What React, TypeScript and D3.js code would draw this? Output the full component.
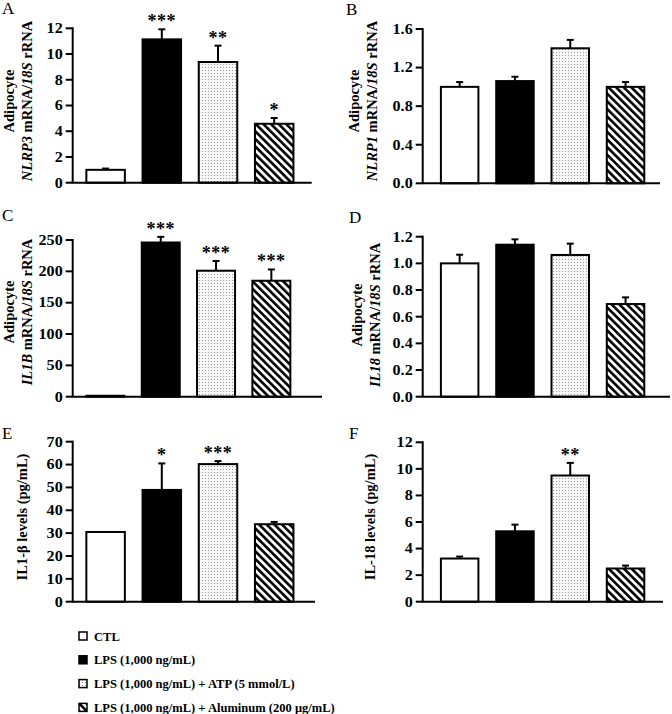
import React from "react";
import * as d3 from "d3";

const groups = ["CTL", "LPS", "ATP", "Al"];

const nlrp3Means = [1.0, 11.14, 9.38, 4.58];
const nlrp3Errs = [0.1, 0.78, 1.27, 0.45];
const nlrp3Stars = ["", "***", "**", "*"];
const nlrp3Ticks = [0, 2, 4, 6, 8, 10, 12];

const nlrp1Means = [1.0, 1.06, 1.4, 1.0];
const nlrp1Errs = [0.05, 0.045, 0.087, 0.05];
const nlrp1Stars = ["", "", "", ""];
const nlrp1Ticks = [0, 0.4, 0.8, 1.2, 1.6];

const il1bMeans = [1.5, 246, 201, 185];
const il1bErrs = [0, 9, 15.5, 18];
const il1bStars = ["", "***", "***", "***"];
const il1bTicks = [0, 50, 100, 150, 200, 250];

const il18Means = [1.0, 1.14, 1.063, 0.695];
const il18Errs = [0.065, 0.04, 0.085, 0.05];
const il18Stars = ["", "", "", ""];
const il18Ticks = [0, 0.2, 0.4, 0.6, 0.8, 1.0, 1.2];

const il1bLevelMeans = [30.5, 48.9, 60.2, 33.9];
const il1bLevelErrs = [0, 11.6, 1.3, 1.0];
const il1bLevelStars = ["", "*", "***", ""];
const il1bLevelTicks = [0, 10, 20, 30, 40, 50, 60, 70];

const il18LevelMeans = [3.25, 5.3, 9.5, 2.5];
const il18LevelErrs = [0.15, 0.5, 0.95, 0.22];
const il18LevelStars = ["", "", "**", ""];
const il18LevelTicks = [0, 2, 4, 6, 8, 10, 12];

const legendLabels = [
  "CTL",
  "LPS (1,000 ng/mL)",
  "LPS (1,000 ng/mL) + ATP (5 mmol/L)",
  "LPS (1,000 ng/mL) + Aluminum (200 μg/mL)",
];

const FONT = "'Liberation Serif', 'Times New Roman', serif";
const fills = ["#ffffff", "#000000", "url(#dots)", "url(#stripes)"];

type Seg = { t: string; i?: boolean };

type PanelCfg = {
  letter: string;
  lx: number;
  ly: number;
  means: number[];
  errs: number[];
  stars: string[];
  ticks: number[];
  fmt: (v: number) => string;
  x0: number;
  xEnd: number;
  bandStart: number;
  step: number;
  barW: number;
  yTop: number;
  yBot: number;
  titleLines: { x: number; segs: Seg[] }[];
  titleCy: number;
};

const fInt = d3.format("d");
const f1 = d3.format(".1f");

const panels: PanelCfg[] = [
  {
    letter: "A", lx: 2, ly: 14,
    means: nlrp3Means, errs: nlrp3Errs, stars: nlrp3Stars, ticks: nlrp3Ticks, fmt: fInt,
    x0: 72.7, xEnd: 311.7, bandStart: 77.5, step: 56.2, barW: 38.5, yTop: 28.3, yBot: 182.7,
    titleLines: [
      { x: 14, segs: [{ t: "Adipocyte" }] },
      { x: 32, segs: [{ t: "NLRP3", i: true }, { t: " mRNA/" }, { t: "18S", i: true }, { t: " rRNA" }] },
    ],
    titleCy: 101,
  },
  {
    letter: "B", lx: 346, ly: 15,
    means: nlrp1Means, errs: nlrp1Errs, stars: nlrp1Stars, ticks: nlrp1Ticks, fmt: f1,
    x0: 422.7, xEnd: 660, bandStart: 432, step: 55.3, barW: 37.5, yTop: 29, yBot: 183.3,
    titleLines: [
      { x: 359, segs: [{ t: "Adipocyte" }] },
      { x: 377, segs: [{ t: "NLRP1", i: true }, { t: " mRNA/" }, { t: "18S", i: true }, { t: " rRNA" }] },
    ],
    titleCy: 101,
  },
  {
    letter: "C", lx: 2, ly: 221,
    means: il1bMeans, errs: il1bErrs, stars: il1bStars, ticks: il1bTicks, fmt: fInt,
    x0: 72.7, xEnd: 322, bandStart: 77.8, step: 55.3, barW: 38, yTop: 240, yBot: 396.7,
    titleLines: [
      { x: 14, segs: [{ t: "Adipocyte" }] },
      { x: 32, segs: [{ t: "IL1B", i: true }, { t: " mRNA/" }, { t: "18S", i: true }, { t: " rRNA" }] },
    ],
    titleCy: 312,
  },
  {
    letter: "D", lx: 349, ly: 223,
    means: il18Means, errs: il18Errs, stars: il18Stars, ticks: il18Ticks, fmt: f1,
    x0: 422.7, xEnd: 670, bandStart: 432, step: 55.3, barW: 37.5, yTop: 236.7, yBot: 396.7,
    titleLines: [
      { x: 362, segs: [{ t: "Adipocyte" }] },
      { x: 380, segs: [{ t: "IL18", i: true }, { t: " mRNA/" }, { t: "18S", i: true }, { t: " rRNA" }] },
    ],
    titleCy: 315,
  },
  {
    letter: "E", lx: 2, ly: 439,
    means: il1bLevelMeans, errs: il1bLevelErrs, stars: il1bLevelStars, ticks: il1bLevelTicks, fmt: fInt,
    x0: 72.7, xEnd: 315, bandStart: 77.5, step: 56.2, barW: 38.5, yTop: 441.7, yBot: 601.7,
    titleLines: [{ x: 27, segs: [{ t: "IL1-β levels (pg/mL)" }] }],
    titleCy: 517,
  },
  {
    letter: "F", lx: 349, ly: 439,
    means: il18LevelMeans, errs: il18LevelErrs, stars: il18LevelStars, ticks: il18LevelTicks, fmt: fInt,
    x0: 422.7, xEnd: 663, bandStart: 432, step: 55.3, barW: 37.5, yTop: 442.3, yBot: 601.7,
    titleLines: [{ x: 375, segs: [{ t: "IL-18 levels (pg/mL)" }] }],
    titleCy: 517,
  },
];

function Panel({ p }: { p: PanelCfg }) {
  const maxTick = p.ticks[p.ticks.length - 1];
  const y = d3.scaleLinear().domain([0, maxTick]).range([p.yBot, p.yTop]);
  const x = d3
    .scaleBand<string>()
    .domain(groups)
    .range([p.bandStart, p.bandStart + p.step * groups.length])
    .paddingInner(1 - p.barW / p.step)
    .paddingOuter((1 - p.barW / p.step) / 2);
  return (
    <g>
      <text x={p.lx} y={p.ly} fontFamily={FONT} fontSize={17}>{p.letter}</text>
      {p.titleLines.map((l, k) => (
        <text
          key={k}
          transform={`translate(${l.x},${p.titleCy}) rotate(-90)`}
          textAnchor="middle"
          fontFamily={FONT}
          fontWeight="bold"
          fontSize={14.5}
        >
          {l.segs.map((s, j) => (
            <tspan key={j} fontStyle={s.i ? "italic" : "normal"}>{s.t}</tspan>
          ))}
        </text>
      ))}
      {p.ticks.map((t) => (
        <g key={t}>
          <line x1={p.x0 - 7} x2={p.x0} y1={y(t)} y2={y(t)} stroke="#000" strokeWidth={2} />
          <text
            transform={`translate(${p.x0 - 10},${y(t) + 4.8}) scale(1.15,1)`}
            textAnchor="end"
            fontFamily={FONT}
            fontWeight="bold"
            fontSize={14}
          >
            {p.fmt(t)}
          </text>
        </g>
      ))}
      {groups.map((g, i) => {
        const bx = x(g)!;
        const cx = bx + x.bandwidth() / 2;
        const top = y(p.means[i]);
        const eTop = y(p.means[i] + p.errs[i]);
        return (
          <g key={g}>
            {p.errs[i] > 0 && (
              <g>
                <line x1={cx} x2={cx} y1={top} y2={eTop} stroke="#000" strokeWidth={2} />
                <line x1={cx - 3.5} x2={cx + 3.5} y1={eTop} y2={eTop} stroke="#000" strokeWidth={2} />
              </g>
            )}
            <rect
              x={bx}
              y={top}
              width={x.bandwidth()}
              height={p.yBot - top}
              fill={fills[i]}
              stroke="#000"
              strokeWidth={2}
            />
            {p.stars[i] && (
              <text
                x={cx}
                y={eTop - 11 + 9}
                textAnchor="middle"
                fontFamily={FONT}
                fontWeight="bold"
                fontSize={18}
                letterSpacing={0.5}
              >
                {p.stars[i]}
              </text>
            )}
          </g>
        );
      })}
      <line x1={p.x0} x2={p.x0} y1={p.yTop - 1} y2={p.yBot} stroke="#000" strokeWidth={2} />
      <line x1={p.x0 - 1} x2={p.xEnd} y1={p.yBot} y2={p.yBot} stroke="#000" strokeWidth={2} />
    </g>
  );
}

export default function App() {
  const legendYs = legendLabels.map((_, i) => 636 + i * 23.8);
  return (
    <svg width={672} height={714} style={{ position: "absolute", left: 0, top: 0, background: "#fff" }}>
      <defs>
        <pattern id="dots" patternUnits="userSpaceOnUse" width={3} height={3}>
          <rect width={3} height={3} fill="#f7f7f7" />
          <rect x={1} y={1} width={1} height={1} fill="#9a9a9a" />
        </pattern>
        <pattern
          id="stripes"
          patternUnits="userSpaceOnUse"
          width={5.4}
          height={5.4}
          patternTransform="rotate(-45)"
        >
          <rect width={5.4} height={5.4} fill="#fff" />
          <rect x={0} y={0} width={2.6} height={5.4} fill="#000" />
        </pattern>
      </defs>
      <rect width={672} height={714} fill="#fff" />
      {panels.map((p) => (
        <Panel key={p.letter} p={p} />
      ))}
      {legendLabels.map((l, i) => (
        <g key={l}>
          <rect x={79} y={legendYs[i] - 4} width={8} height={8} fill={fills[i]} stroke="#000" strokeWidth={1.5} />
          <text
            transform={`translate(94,${legendYs[i] + 4.6}) scale(1.09,1)`}
            fontFamily={FONT}
            fontWeight="bold"
            fontSize={11.5}
          >
            {l}
          </text>
        </g>
      ))}
    </svg>
  );
}
